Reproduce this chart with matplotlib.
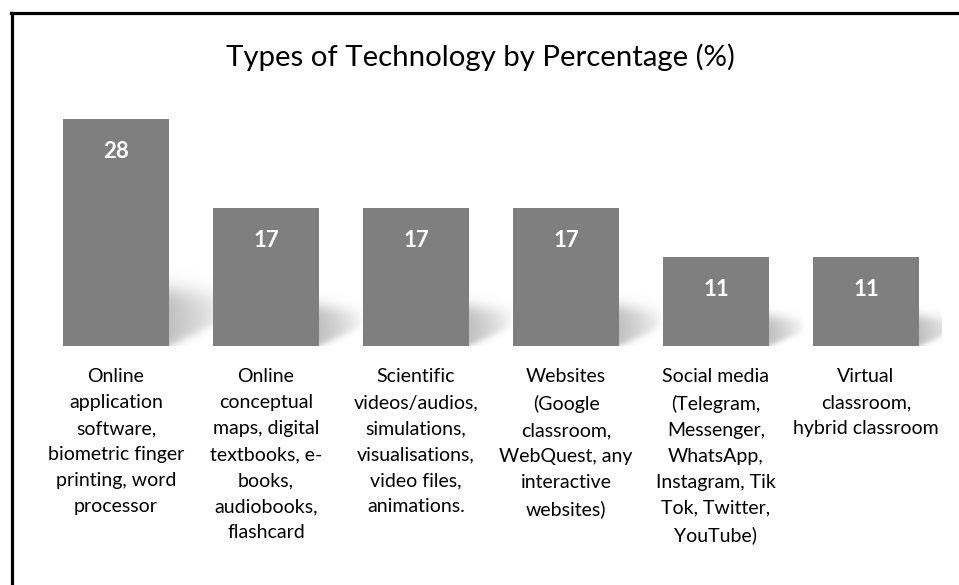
import matplotlib
matplotlib.use("Agg")
from matplotlib import pyplot as plt
from matplotlib.lines import Line2D
import numpy as np

#chart data
categories = [
    "Online\napplication\nsoftware,\nbiometric finger\nprinting, word\nprocessor",
    "Online\nconceptual\nmaps, digital\ntextbooks, e-\nbooks,\naudiobooks,\nflashcard",
    "Scientific\nvideos/audios,\nsimulations,\nvisualisations,\nvideo files,\nanimations.",
    "Websites\n(Google\nclassroom,\nWebQuest, any\ninteractive\nwebsites)",
    "Social media\n(Telegram,\nMessenger,\nWhatsApp,\nInstagram, Tik\nTok, Twitter,\nYouTube)",
    "Virtual\nclassroom,\nhybrid classroom",
]
values = [28, 17, 17, 17, 11, 11]
title = "Types of Technology by Percentage (%)"

plt.rcParams['font.family'] = ['Lato', 'DejaVu Sans']

W, H = 959, 585
fig = plt.figure(figsize=(W/100, H/100), dpi=100)
ax = fig.add_axes([41/W, 239/H, 900/W, 243/H])

bar_w = 0.71
xs = list(range(len(values)))

def sig(z):
    return 1/(1 + np.exp(-z))

#soft perspective shadow to the right of each bar
for x, v in zip(xs, values):
    xr = x + bar_w/2
    hs = 1.56 + 0.194*v
    L = 0.12 + 0.01*v
    x0, x1 = xr - 0.05, xr + L*1.3
    y0, y1 = 0, hs*1.4
    X, Y = np.meshgrid(np.linspace(x0, x1, 240), np.linspace(y0, y1, 240))
    t = np.clip((X - xr)/L, 0, None)
    fx = np.clip(1 - t, 0, 1)**0.7
    yt = hs*(1 - 0.15*t)
    yb = 0.5*hs*t
    fy = sig((yt - Y)/(0.1*hs)) * sig((Y - yb)/(0.05*hs))
    alpha = 0.38*fx*fy
    img = np.zeros((240, 240, 4))
    img[..., :3] = 0.35
    img[..., 3] = alpha
    ax.imshow(img, extent=(x0, x1, y0, y1), origin="lower", aspect="auto",
              interpolation="bilinear", zorder=1)

ax.bar(xs, values, width=bar_w, color="#7f7f7f", zorder=2)

for x, v in zip(xs, values):
    ax.text(x, v - 4.0, str(v), ha="center", va="center", color="white",
            fontsize=16, fontweight="bold", zorder=3)

ax.set_xlim(-0.5, 5.5)
ax.set_ylim(0, 30)
ax.set_xticks(xs)
ax.set_xticklabels(categories, fontsize=14, linespacing=1.64, va="top")
ax.tick_params(axis="x", length=0, pad=16)
ax.set_yticks([])
for sp in ax.spines.values():
    sp.set_visible(False)

fig.text(480/W, 1 - 57/H, title, ha="center", va="center", fontsize=21.2)

#border lines (top and left)
fig.add_artist(Line2D([11/W, 1], [1 - 13/H, 1 - 13/H], color="black", lw=2.3, transform=fig.transFigure))
fig.add_artist(Line2D([12/W, 12/W], [0, 1 - 13/H], color="black", lw=2.3, transform=fig.transFigure))

fig.savefig("out.png", dpi=100)
